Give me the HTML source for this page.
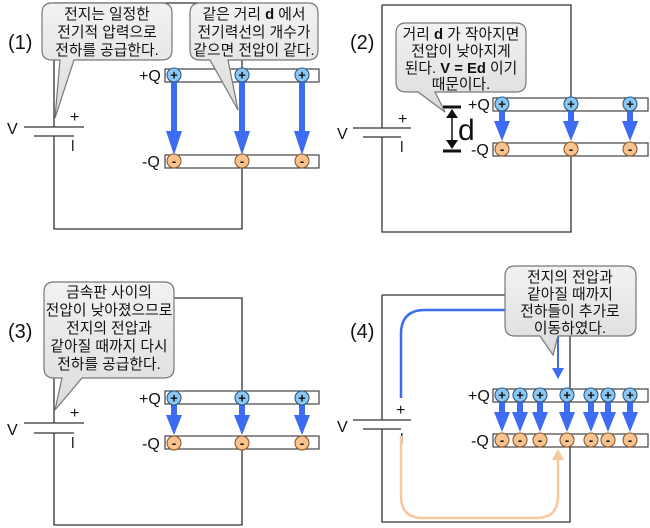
<!DOCTYPE html>
<html><head><meta charset="utf-8"><style>
html,body{margin:0;padding:0;background:#fff;}
svg{display:block;}
text{font-family:"Liberation Sans","Noto Sans CJK KR","NanumGothic",sans-serif;}
.w{stroke:#333;stroke-width:1.3;fill:none;}
.b{fill:url(#g);stroke:#777;stroke-width:1.2;}
.t{font-size:14.8px;fill:#111;text-anchor:middle;}
.pl{fill:#fff;stroke:#444;stroke-width:1.2;}
.pc{fill:#8cc6f2;stroke:#2f5c88;stroke-width:1.1;}
.nc{fill:#f8c38e;stroke:#8a5a30;stroke-width:1.1;}
.s{font-size:13px;font-weight:bold;fill:#111;text-anchor:middle;}
.lab{font-size:16px;fill:#111;}
.big{font-size:20px;fill:#111;}
</style></head><body>
<svg width="650" height="528" viewBox="0 0 650 528" xmlns="http://www.w3.org/2000/svg">
<defs>
<linearGradient id="g" x1="0" y1="0" x2="0" y2="1"><stop offset="0" stop-color="#f2f2f2"/><stop offset="1" stop-color="#dcdcdc"/></linearGradient>
<g id="arL"><rect x="-3" y="0" width="6" height="52" fill="#3d6cf2"/><polygon points="-8,50 8,50 0,74" fill="#3d6cf2"/></g>
<g id="arS"><rect x="-3" y="0" width="6" height="12" fill="#3d6cf2"/><polygon points="-8,11 8,11 0,31" fill="#3d6cf2"/></g>
<g id="pc"><circle r="7" class="pc"/><text y="4.5" class="s">+</text></g>
<g id="nc"><circle r="7" class="nc"/><text y="4.5" class="s">-</text></g>
</defs>

<!-- Panel 1 -->
<text x="8" y="49" class="big">(1)</text>
<path class="w" d="M54 3 H242 V69 M242 167 V229 H54 V136 M54 3 V127"/>
<line x1="24" y1="127" x2="84" y2="127" class="w"/>
<line x1="34" y1="136" x2="74" y2="136" class="w"/>
<text x="7" y="134" class="lab">V</text>
<text x="70" y="122" class="lab">+</text>
<rect x="72" y="140" width="1.5" height="11" fill="#333"/>
<rect x="165" y="69" width="154" height="13" class="pl"/>
<rect x="165" y="155" width="154" height="13" class="pl"/>
<text x="139" y="81" class="lab">+Q</text>
<text x="142" y="167" class="lab">-Q</text>
<use href="#arL" x="174" y="81"/><use href="#arL" x="242" y="81"/><use href="#arL" x="302" y="81"/>
<use href="#pc" x="174" y="75"/><use href="#pc" x="242" y="75"/><use href="#pc" x="302" y="75"/>
<use href="#nc" x="174" y="161"/><use href="#nc" x="242" y="161"/><use href="#nc" x="302" y="161"/>
<path class="b" d="M52 3 H162 Q172 3 172 13 V50 Q172 60 162 60 H74 L55 118 L60 60 H52 Q42 60 42 50 V13 Q42 3 52 3 Z"/>
<text class="t" x="107" y="19">전지는 일정한</text>
<text class="t" x="107" y="37">전기적 압력으로</text>
<text class="t" x="107" y="55">전하를 공급한다.</text>
<path class="b" d="M200 3 H308 Q318 3 318 13 V50 Q318 60 308 60 H228 L238 110 L210 60 H200 Q190 60 190 50 V13 Q190 3 200 3 Z"/>
<text class="t" x="254" y="19">같은 거리 <tspan font-weight="bold">d</tspan> 에서</text>
<text class="t" x="254" y="37">전기력선의 개수가</text>
<text class="t" x="254" y="55">같으면 전압이 같다.</text>

<!-- Panel 2 -->
<text x="350" y="49" class="big">(2)</text>
<path class="w" d="M382 5 H571 V98 M571 156 V232 H382 V137 M382 5 V128"/>
<line x1="353" y1="128" x2="411" y2="128" class="w"/>
<line x1="363" y1="137" x2="401" y2="137" class="w"/>
<text x="337" y="139" class="lab">V</text>
<text x="398" y="124" class="lab">+</text>
<rect x="401" y="141" width="1.5" height="11" fill="#333"/>
<rect x="493" y="98" width="155" height="13" class="pl"/>
<rect x="493" y="143" width="155" height="13" class="pl"/>
<text x="468" y="110" class="lab">+Q</text>
<text x="471" y="155" class="lab">-Q</text>
<use href="#arS" x="502" y="110"/><use href="#arS" x="571" y="110"/><use href="#arS" x="630" y="110"/>
<use href="#pc" x="502" y="104"/><use href="#pc" x="571" y="104"/><use href="#pc" x="630" y="104"/>
<use href="#nc" x="502" y="149"/><use href="#nc" x="571" y="149"/><use href="#nc" x="630" y="149"/>
<line x1="443" y1="107" x2="461" y2="107" stroke="#111" stroke-width="3"/>
<line x1="443" y1="151" x2="461" y2="151" stroke="#111" stroke-width="3"/>
<line x1="452" y1="112" x2="452" y2="146" stroke="#111" stroke-width="1.5"/>
<polygon points="446,118 458,118 452,109" fill="#111"/>
<polygon points="446,140 458,140 452,149" fill="#111"/>
<text x="458" y="140" font-size="30" fill="#111">d</text>
<path class="b" d="M406 23 H516 Q526 23 526 33 V82 Q526 92 516 92 H435 L445 112 L418 92 H406 Q396 92 396 82 V33 Q396 23 406 23 Z"/>
<text class="t" x="461" y="39">거리 <tspan font-weight="bold">d</tspan> 가 작아지면</text>
<text class="t" x="461" y="56">전압이 낮아지게</text>
<text class="t" x="461" y="73">된다. <tspan font-weight="bold">V = Ed</tspan> 이기</text>
<text class="t" x="461" y="89">때문이다.</text>

<!-- Panel 3 -->
<text x="8" y="338" class="big">(3)</text>
<path class="w" d="M174 298 H242 V391 M242 450 V525 H54 V433 M54 378 V423"/>
<line x1="24" y1="423" x2="84" y2="423" class="w"/>
<line x1="34" y1="433" x2="74" y2="433" class="w"/>
<text x="7" y="435" class="lab">V</text>
<text x="70" y="418" class="lab">+</text>
<rect x="72" y="437" width="1.5" height="11" fill="#333"/>
<rect x="165" y="391" width="154" height="13" class="pl"/>
<rect x="165" y="436" width="154" height="13" class="pl"/>
<text x="139" y="404" class="lab">+Q</text>
<text x="142" y="449" class="lab">-Q</text>
<use href="#arS" x="174" y="404"/><use href="#arS" x="242" y="404"/><use href="#arS" x="302" y="404"/>
<use href="#pc" x="174" y="398"/><use href="#pc" x="242" y="398"/><use href="#pc" x="302" y="398"/>
<use href="#nc" x="174" y="443"/><use href="#nc" x="242" y="443"/><use href="#nc" x="302" y="443"/>
<path class="b" d="M54 282 H164 Q174 282 174 292 V368 Q174 378 164 378 H82 L55 410 L62 378 H54 Q44 378 44 368 V292 Q44 282 54 282 Z"/>
<text class="t" x="109" y="297">금속판 사이의</text>
<text class="t" x="109" y="315">전압이 낮아졌으므로</text>
<text class="t" x="109" y="333">전지의 전압과</text>
<text class="t" x="109" y="351">같아질 때까지 다시</text>
<text class="t" x="109" y="369">전하를 공급한다.</text>

<!-- Panel 4 -->
<text x="350" y="338" class="big">(4)</text>
<path class="w" d="M382 295 H570 V389 M570 446 V522 H382 V429 M382 295 V420"/>
<line x1="353" y1="420" x2="411" y2="420" class="w"/>
<line x1="363" y1="429" x2="401" y2="429" class="w"/>
<text x="337" y="432" class="lab">V</text>
<text x="396" y="415" class="lab">+</text>
<rect x="401" y="433" width="1.5" height="11" fill="#333"/>
<path d="M401 398 V334 Q401 310 425 310 H508" stroke="#3d6cf2" stroke-width="2.5" fill="none"/>
<path d="M401 436 V496 Q401 518 423 518 H536 Q558 518 558 496 V458" stroke="#f8c99a" stroke-width="2.5" fill="none"/>
<polygon points="552,460 564,460 558,449" fill="#f8c99a"/>
<line x1="558" y1="336" x2="558" y2="370" stroke="#3d6cf2" stroke-width="2"/>
<polygon points="552,368 564,368 558,379" fill="#3d6cf2"/>
<rect x="493" y="389" width="155" height="13" class="pl"/>
<rect x="493" y="434" width="155" height="13" class="pl"/>
<text x="468" y="401" class="lab">+Q</text>
<text x="471" y="446" class="lab">-Q</text>
<use href="#arS" x="502" y="401"/><use href="#arS" x="520" y="401"/><use href="#arS" x="540" y="401"/><use href="#arS" x="567" y="401"/><use href="#arS" x="591" y="401"/><use href="#arS" x="608" y="401"/><use href="#arS" x="630" y="401"/>
<use href="#pc" x="502" y="395"/><use href="#pc" x="520" y="395"/><use href="#pc" x="540" y="395"/><use href="#pc" x="567" y="395"/><use href="#pc" x="591" y="395"/><use href="#pc" x="608" y="395"/><use href="#pc" x="630" y="395"/>
<use href="#nc" x="502" y="440"/><use href="#nc" x="520" y="440"/><use href="#nc" x="540" y="440"/><use href="#nc" x="567" y="440"/><use href="#nc" x="591" y="440"/><use href="#nc" x="608" y="440"/><use href="#nc" x="630" y="440"/>
<path class="b" d="M515 266 H626 Q636 266 636 276 V326 Q636 336 626 336 H558 L553 355 L540 336 H515 Q505 336 505 326 V276 Q505 266 515 266 Z"/>
<text class="t" x="570" y="282">전지의 전압과</text>
<text class="t" x="570" y="299">같아질 때까지</text>
<text class="t" x="570" y="316">전하들이 추가로</text>
<text class="t" x="570" y="333">이동하였다.</text>
</svg>
</body></html>
